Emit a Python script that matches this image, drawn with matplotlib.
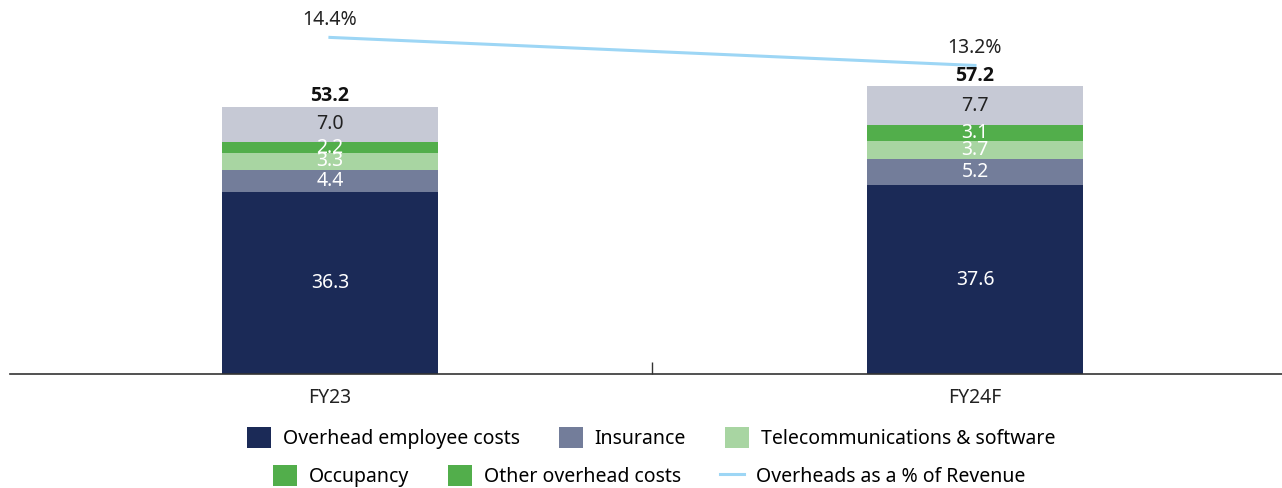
import matplotlib
matplotlib.use("Agg")
import matplotlib.pyplot as plt
from matplotlib.patches import Patch
from matplotlib.lines import Line2D
import numpy as np

plt.rcParams['font.family'] = ['Noto Sans', 'DejaVu Sans']

categories = ["FY23", "FY24F"]
employee = [36.3, 37.6]
insurance = [4.4, 5.2]
telecom = [3.3, 3.7]
occupancy = [2.2, 3.1]
other = [7.0, 7.7]
totals = [53.2, 57.2]
overhead_pct = [14.4, 13.2]

series_names = ["Overhead employee costs", "Insurance", "Telecommunications & software",
                "Occupancy", "Other overhead costs"]
bar_colors = ["#1B2A57", "#737D9A", "#A8D5A2", "#52AE4B", "#C6C9D5"]
legend_colors = ["#1B2A57", "#737D9A", "#A8D5A2", "#52AE4B", "#52AE4B"]
label_colors = ["white", "white", "white", "white", "#222222"]
line_color = "#9DD6F5"

fig = plt.figure(figsize=(12.82, 4.88), dpi=100)
ax = fig.add_axes([10 / 1282, 114 / 488, 1272 / 1282, 374 / 488])

x = np.arange(len(categories))
width = 0.336
bottom = np.zeros(len(categories))
for vals, col, lc in zip([employee, insurance, telecom, occupancy, other], bar_colors, label_colors):
    vals = np.array(vals)
    ax.bar(x, vals, width, bottom=bottom, color=col, zorder=2)
    for xi, b, v in zip(x, bottom, vals):
        ax.text(xi, b + v / 2, f"{v:.1f}", ha="center", va="center",
                color=lc, fontsize=14, zorder=3)
    bottom += vals

for xi, t in zip(x, totals):
    ax.text(xi, t + 0.2, f"{t:.1f}", ha="center", va="bottom",
            fontsize=14, fontweight="bold", color="#111111",
            family=["Open Sans", "DejaVu Sans"])

ax.set_xlim(-0.496, 1.476)
ax.set_ylim(0, 74.5)
ax.set_yticks([])
for s in ["top", "right", "left"]:
    ax.spines[s].set_visible(False)
ax.spines["bottom"].set_color("#333333")
ax.spines["bottom"].set_linewidth(1.2)
ax.set_xticks(x)
ax.set_xticklabels(categories, fontsize=14, color="#222222")
ax.tick_params(axis="x", length=0, pad=10)
ax.set_xticks([0.5], minor=True)
ax.tick_params(axis="x", which="minor", direction="in", length=9, color="#333333", width=1)

ax2 = ax.twinx()
ax2.set_ylim(0, 16.0)
ax2.plot(x, overhead_pct, color=line_color, lw=2.2, zorder=4)
for xi, p in zip(x, overhead_pct):
    ax2.text(xi, p + 0.3, f"{p:.1f}%", ha="center", va="bottom", fontsize=14, color="#222222")
ax2.set_yticks([])
for s in ["top", "right", "left", "bottom"]:
    ax2.spines[s].set_visible(False)

handles = [Patch(facecolor=c, edgecolor="none") for c in legend_colors]
line_handle = Line2D([0], [0], color=line_color, lw=2.2)

legend_kw = dict(loc="center", ncol=3, frameon=False, fontsize=14, handlelength=1.25,
                 handleheight=1.3, columnspacing=2.0, handletextpad=0.6)
fig.legend(handles[:3], series_names[:3], bbox_to_anchor=(651 / 1282, 1 - 438 / 488), **legend_kw)
fig.legend(handles[3:] + [line_handle], series_names[3:] + ["Overheads as a % of Revenue"],
           bbox_to_anchor=(649 / 1282, 1 - 476 / 488), **legend_kw)

fig.savefig("out.png", dpi=100)
